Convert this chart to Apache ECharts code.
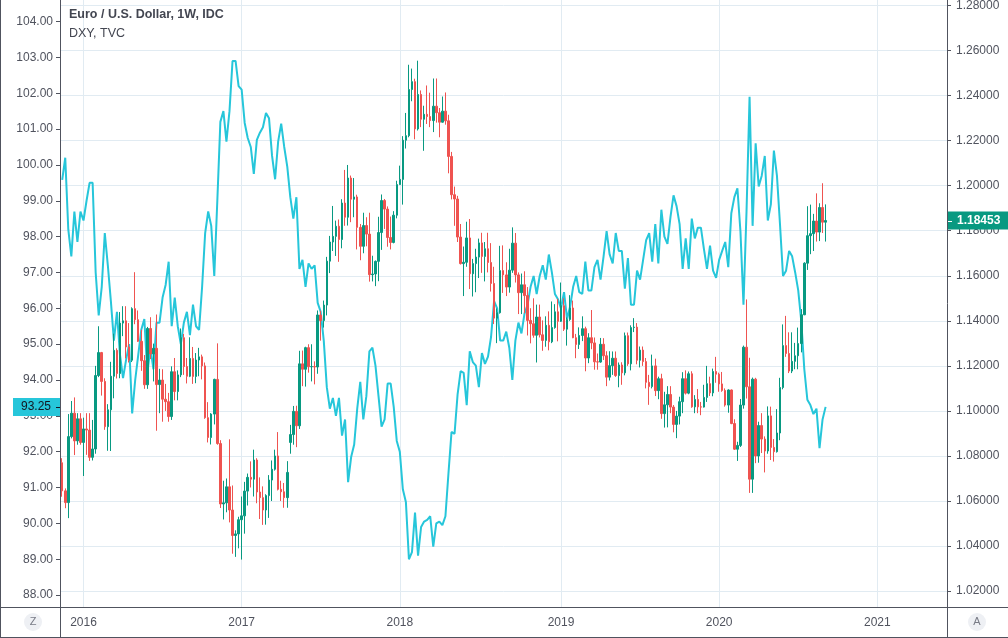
<!DOCTYPE html>
<html><head><meta charset="utf-8">
<script src="https://cdn.jsdelivr.net/npm/echarts@6/dist/echarts.min.js"></script>
<style>html,body{margin:0;padding:0;background:#fff;}#c{width:1008px;height:638px;}</style>
</head><body><div id="c"></div>
<script>
// ---- data ----
const firstWeek = '2015-11-16';
const yearTickDates = ['2016-01-04','2017-01-02','2018-01-01','2019-01-07','2020-01-06','2021-01-04'];
const yearTickLabels = ['2016','2017','2018','2019','2020','2021'];
const dxyTicks = [88,89,90,91,92,93,94,95,96,97,98,99,100,101,102,103,104];
const eurTicks = [1.02,1.04,1.06,1.08,1.10,1.12,1.14,1.16,1.18,1.20,1.22,1.24,1.26,1.28];
const titleMain = 'Euro / U.S. Dollar, 1W, IDC';
const titleCompare = 'DXY, TVC';

const eurOpen = [
1.0770,1.0645,1.0593,1.0886,1.0990,1.0867,1.0965,1.0860,1.0920,1.0915,
1.0794,1.0831,1.1157,1.1259,1.1131,1.0930,1.1005,1.1154,1.1269,1.1166,
1.1390,1.1400,1.1284,1.1225,1.1454,1.1405,1.1309,1.1223,1.1116,1.1366,
1.1253,1.1278,1.1117,1.1137,1.1052,1.1041,1.0975,1.1174,1.1086,1.1160,
1.1325,1.1197,1.1154,1.1233,1.1153,1.1226,1.1240,1.1200,1.0970,1.0882,
1.0986,1.1140,1.0855,1.0587,1.0592,1.0663,1.0560,1.0447,1.0454,1.0517,
1.0534,1.0644,1.0705,1.0697,1.0782,1.0640,1.0615,1.0560,1.0624,1.0693,
1.0741,1.0800,1.0652,1.0641,1.0615,1.0860,1.0895,1.0998,1.0934,1.1209,
1.1185,1.1281,1.1196,1.1197,1.1195,1.1426,1.1401,1.1470,1.1665,1.1750,
1.1775,1.1820,1.1761,1.1923,1.1860,1.2034,1.1940,1.1950,1.1815,1.1731,
1.1823,1.1785,1.1605,1.1608,1.1664,1.1792,1.1934,1.1896,1.1770,1.1748,
1.1869,1.2005,1.2028,1.2202,1.2222,1.2427,1.2462,1.2252,1.2405,1.2295,
1.2317,1.2307,1.2289,1.2353,1.2324,1.2282,1.2331,1.2288,1.2130,1.1960,
1.1941,1.1772,1.1654,1.1660,1.1768,1.1609,1.1654,1.1683,1.1746,1.1686,
1.1720,1.1659,1.1566,1.1412,1.1436,1.1623,1.1604,1.1550,1.1625,1.1745,
1.1604,1.1525,1.1560,1.1512,1.1402,1.1387,1.1336,1.1417,1.1338,1.1313,
1.1380,1.1307,1.1370,1.1440,1.1398,1.1467,1.1363,1.1406,1.1457,1.1325,
1.1295,1.1335,1.1365,1.1235,1.1325,1.1302,1.1218,1.1217,1.1296,1.1245,
1.1150,1.1201,1.1234,1.1157,1.1204,1.1169,1.1334,1.1209,1.1370,1.1372,
1.1225,1.1270,1.1219,1.1127,1.1108,1.1200,1.1090,1.1143,1.0988,1.1027,
1.1073,1.1017,1.0940,1.0977,1.1041,1.1143,1.1079,1.1165,1.1018,1.1051,
1.1018,1.1017,1.1060,1.1121,1.1080,1.1175,1.1163,1.1120,1.1091,1.1026,
1.1093,1.0944,1.0830,1.0847,1.1026,1.1283,1.1107,1.0697,1.1141,1.0800,
1.0935,1.0875,1.0822,1.0978,1.0838,1.0819,1.0902,1.1104,1.1290,1.1255,
1.1177,1.1220,1.1245,1.1299,1.1427,1.1656,1.1778,1.1787,1.1843,1.1794,
1.1903,1.1838];

const eurHigh = [
1.0790,1.0656,1.0986,1.1044,1.1060,1.0990,1.0990,1.0970,1.0990,1.0990,
1.0960,1.1200,1.1376,1.1262,1.1145,1.1030,1.1218,1.1343,1.1278,1.1439,
1.1465,1.1465,1.1390,1.1460,1.1616,1.1446,1.1360,1.1248,1.1373,1.1416,
1.1299,1.1428,1.1187,1.1185,1.1120,1.1080,1.1198,1.1235,1.1180,1.1366,
1.1342,1.1235,1.1327,1.1284,1.1257,1.1280,1.1250,1.1215,1.1039,1.0990,
1.1143,1.1300,1.0870,1.0690,1.0700,1.0874,1.0669,1.0470,1.0530,1.0620,
1.0685,1.0722,1.0776,1.0828,1.0790,1.0705,1.0665,1.0630,1.0715,1.0780,
1.0828,1.0906,1.0690,1.0680,1.0777,1.0938,1.1022,1.1023,1.1267,1.1268,
1.1285,1.1296,1.1296,1.1220,1.1446,1.1445,1.1490,1.1684,1.1777,1.1910,
1.1845,1.1850,1.1940,1.2070,1.2092,1.2045,1.2034,1.1960,1.1830,1.1880,
1.1860,1.1880,1.1689,1.1668,1.1862,1.1961,1.1941,1.1908,1.1863,1.1887,
1.2022,1.2089,1.2220,1.2323,1.2537,1.2520,1.2475,1.2555,1.2423,1.2355,
1.2445,1.2413,1.2476,1.2476,1.2345,1.2396,1.2414,1.2315,1.2150,1.1996,
1.1955,1.1830,1.1730,1.1840,1.1852,1.1675,1.1720,1.1765,1.1791,1.1750,
1.1791,1.1745,1.1640,1.1455,1.1733,1.1735,1.1660,1.1720,1.1815,1.1790,
1.1615,1.1610,1.1620,1.1550,1.1456,1.1500,1.1472,1.1472,1.1402,1.1420,
1.1442,1.1486,1.1474,1.1498,1.1570,1.1500,1.1415,1.1514,1.1490,1.1342,
1.1371,1.1420,1.1374,1.1345,1.1448,1.1326,1.1255,1.1324,1.1323,1.1265,
1.1265,1.1264,1.1264,1.1215,1.1216,1.1348,1.1348,1.1380,1.1412,1.1390,
1.1286,1.1286,1.1235,1.1160,1.1250,1.1232,1.1152,1.1165,1.1085,1.1110,
1.1110,1.1026,1.1000,1.1063,1.1172,1.1180,1.1175,1.1176,1.1070,1.1097,
1.1040,1.1116,1.1200,1.1152,1.1188,1.1240,1.1170,1.1173,1.1100,1.1096,
1.1095,1.0963,1.0863,1.1053,1.1290,1.1495,1.1236,1.1148,1.1147,1.0952,
1.0990,1.0887,1.1020,1.1019,1.0875,1.1008,1.1147,1.1384,1.1422,1.1349,
1.1349,1.1302,1.1370,1.1452,1.1660,1.1909,1.1916,1.1875,1.1966,1.1922,
1.2011,1.1917];

const eurLow = [
1.0619,1.0568,1.0524,1.0878,1.0804,1.0850,1.0850,1.0711,1.0805,1.0778,
1.0780,1.0810,1.1150,1.1068,1.0916,1.0823,1.0822,1.1056,1.1144,1.1145,
1.1332,1.1233,1.1215,1.1217,1.1385,1.1306,1.1178,1.1098,1.1098,1.1230,
1.1131,1.0912,1.0990,1.0952,1.1000,1.0952,1.0960,1.1047,1.1047,1.1150,
1.1160,1.1122,1.1150,1.1120,1.1123,1.1154,1.1140,1.0965,1.0860,1.0851,
1.0940,1.0850,1.0569,1.0518,1.0550,1.0505,1.0366,1.0352,1.0390,1.0340,
1.0455,1.0580,1.0660,1.0620,1.0590,1.0520,1.0494,1.0495,1.0525,1.0600,
1.0735,1.0647,1.0600,1.0570,1.0570,1.0810,1.0850,1.0839,1.0920,1.1110,
1.1108,1.1170,1.1131,1.1118,1.1165,1.1312,1.1370,1.1424,1.1612,1.1710,
1.1688,1.1662,1.1722,1.1822,1.1823,1.1838,1.1860,1.1717,1.1669,1.1700,
1.1731,1.1574,1.1575,1.1554,1.1576,1.1715,1.1808,1.1729,1.1717,1.1744,
1.1855,1.2004,1.1916,1.2165,1.2215,1.2375,1.2206,1.2245,1.2260,1.2155,
1.2274,1.2260,1.2238,1.2280,1.2215,1.2280,1.2271,1.2055,1.1939,1.1822,
1.1750,1.1650,1.1510,1.1640,1.1541,1.1508,1.1527,1.1590,1.1613,1.1575,
1.1615,1.1530,1.1386,1.1301,1.1432,1.1524,1.1510,1.1525,1.1613,1.1570,
1.1430,1.1430,1.1433,1.1335,1.1300,1.1325,1.1215,1.1326,1.1267,1.1285,
1.1269,1.1301,1.1365,1.1309,1.1395,1.1355,1.1290,1.1400,1.1323,1.1234,
1.1275,1.1310,1.1176,1.1212,1.1274,1.1183,1.1183,1.1214,1.1226,1.1110,
1.1135,1.1160,1.1151,1.1105,1.1116,1.1158,1.1200,1.1180,1.1350,1.1207,
1.1193,1.1200,1.1100,1.1027,1.1100,1.1066,1.1052,1.0965,1.0926,1.0927,
1.0990,1.0905,1.0879,1.0940,1.0990,1.1073,1.1074,1.1014,1.0990,1.0990,
1.0981,1.1015,1.1040,1.1066,1.1065,1.1125,1.1085,1.1085,1.1019,1.0992,
1.0941,1.0827,1.0778,1.0840,1.1010,1.1055,1.0636,1.0636,1.0768,1.0770,
1.0813,1.0727,1.0810,1.0782,1.0775,1.0815,1.0870,1.1096,1.1240,1.1168,
1.1168,1.1185,1.1185,1.1260,1.1425,1.1626,1.1696,1.1710,1.1752,1.1754,
1.1790,1.1752];

const eurClose = [
1.0645,1.0593,1.0886,1.0990,1.0867,1.0965,1.0860,1.0920,1.0915,1.0794,
1.0831,1.1157,1.1259,1.1131,1.0930,1.1005,1.1154,1.1269,1.1166,1.1390,
1.1400,1.1284,1.1225,1.1454,1.1405,1.1309,1.1223,1.1116,1.1366,1.1253,
1.1278,1.1117,1.1137,1.1052,1.1041,1.0975,1.1174,1.1086,1.1160,1.1325,
1.1197,1.1154,1.1233,1.1153,1.1226,1.1240,1.1200,1.0970,1.0882,1.0986,
1.1140,1.0855,1.0587,1.0592,1.0663,1.0560,1.0447,1.0454,1.0517,1.0534,
1.0644,1.0705,1.0697,1.0782,1.0640,1.0615,1.0560,1.0624,1.0693,1.0741,
1.0800,1.0652,1.0641,1.0615,1.0727,1.0895,1.0998,1.0934,1.1209,1.1185,
1.1281,1.1196,1.1197,1.1195,1.1426,1.1401,1.1470,1.1665,1.1750,1.1775,
1.1820,1.1761,1.1923,1.1860,1.2034,1.1940,1.1950,1.1815,1.1731,1.1823,
1.1785,1.1605,1.1608,1.1664,1.1792,1.1934,1.1896,1.1770,1.1748,1.1869,
1.2005,1.2028,1.2202,1.2222,1.2427,1.2462,1.2252,1.2405,1.2295,1.2317,
1.2307,1.2289,1.2353,1.2324,1.2282,1.2331,1.2288,1.2130,1.1960,1.1941,
1.1772,1.1654,1.1660,1.1768,1.1609,1.1654,1.1683,1.1746,1.1686,1.1720,
1.1659,1.1566,1.1412,1.1436,1.1623,1.1604,1.1550,1.1625,1.1745,1.1604,
1.1525,1.1560,1.1512,1.1402,1.1387,1.1336,1.1417,1.1338,1.1313,1.1380,
1.1307,1.1370,1.1440,1.1398,1.1467,1.1363,1.1406,1.1457,1.1325,1.1295,
1.1335,1.1365,1.1235,1.1325,1.1302,1.1218,1.1217,1.1296,1.1245,1.1150,
1.1201,1.1234,1.1157,1.1204,1.1169,1.1334,1.1209,1.1370,1.1372,1.1225,
1.1270,1.1219,1.1127,1.1108,1.1200,1.1090,1.1143,1.0988,1.1027,1.1073,
1.1017,1.0940,1.0977,1.1041,1.1143,1.1079,1.1165,1.1018,1.1051,1.1018,
1.1017,1.1060,1.1121,1.1080,1.1175,1.1163,1.1120,1.1091,1.1026,1.1093,
1.0944,1.0830,1.0847,1.1026,1.1283,1.1107,1.0697,1.1141,1.0800,1.0935,
1.0875,1.0822,1.0978,1.0838,1.0819,1.0902,1.1104,1.1290,1.1255,1.1177,
1.1220,1.1245,1.1299,1.1427,1.1656,1.1778,1.1787,1.1843,1.1794,1.1903,
1.1838,1.18453];

const dxyClose = [
99.58,100.2,98.2,97.45,98.7,97.85,98.7,98.45,99.0,99.5,
99.5,97.0,95.8,96.6,98.1,97.2,96.2,95.1,95.9,94.7,
94.05,94.56,95.0,93.07,94.0,94.7,95.4,95.7,94.2,94.9,
94.3,95.6,95.6,96.3,96.65,97.3,95.5,96.3,95.5,95.0,
95.6,95.9,95.25,96.1,95.5,95.4,96.6,98.1,98.7,98.3,
96.9,99.0,101.2,101.5,100.65,101.5,102.9,102.9,102.2,102.1,
101.17,100.75,100.5,99.75,100.7,100.9,101.05,101.45,101.3,100.25,
99.6,100.65,101.15,100.5,99.95,99.1,98.5,99.1,97.1,97.35,
96.6,97.25,97.1,97.2,96.15,95.9,95.1,93.8,93.2,93.5,
93.0,93.5,92.45,92.9,91.15,91.85,92.2,93.2,93.95,92.9,
93.55,94.8,94.9,94.4,93.55,92.7,92.9,93.9,93.9,93.25,
92.3,92.0,90.95,90.6,89.0,89.2,90.3,89.1,89.9,90.05,
90.1,90.2,89.35,90.0,90.05,89.95,90.2,91.4,92.55,92.5,
93.6,94.25,94.2,93.3,94.8,94.5,94.4,93.8,94.75,94.45,
94.65,95.2,96.2,96.0,95.1,95.1,95.35,94.9,94.0,95.1,
95.6,95.3,95.85,96.1,96.6,96.9,96.4,96.9,97.2,96.8,
97.5,97.0,96.4,96.25,96.0,96.45,95.7,96.05,96.6,96.9,
96.45,96.4,97.3,96.5,96.5,97.15,97.35,96.8,97.45,98.15,
97.5,97.25,98.1,97.6,97.6,96.55,97.4,96.1,96.1,97.05,
96.8,97.35,97.9,98.1,97.3,98.35,97.25,98.75,98.0,97.8,
98.55,99.15,98.85,98.35,97.1,97.95,97.1,98.5,97.95,98.25,
98.25,97.65,97.1,97.75,97.05,96.85,97.35,97.6,97.85,97.15,
98.65,99.1,99.35,98.15,96.1,98.7,101.9,98.3,100.6,99.4,
99.7,100.25,98.45,98.9,100.4,99.7,98.35,96.9,97.05,97.6,
97.45,97.0,96.5,95.65,94.3,93.45,93.3,93.05,93.2,92.1,
92.9,93.25];

// ---- build ----
const DAY = 86400000;
const t0 = Date.parse(firstWeek + 'T00:00:00Z');
const weeks = eurClose.map((_, i) => t0 + i * 7 * DAY);
const yearTicks = yearTickDates.map(d => Date.parse(d + 'T00:00:00Z'));
const candles = weeks.map((t, i) => [t, eurOpen[i], eurClose[i], eurLow[i], eurHigh[i]]);
const dxyLine = weeks.map((t, i) => [t, dxyClose[i]]);

const UP = '#089981', DOWN = '#ef5350', CYAN = '#26c6da';
const TXT = '#50535e', GRID = '#e1ebf2', FRAME = '#50535e';
const FONT = 'Liberation Sans, Arial, sans-serif';

const chart = echarts.init(document.getElementById('c'), null, {renderer: 'canvas'});
chart.setOption({
  animation: false,
  backgroundColor: '#ffffff',
  grid: {left: 60, right: 61, top: 0, bottom: 31, containLabel: false, outerBoundsMode: 'none'},
  xAxis: {
    type: 'value',
    min: Date.parse('2015-11-10T22:00:00Z'),
    max: Date.parse('2021-06-13T10:00:00Z'),
    axisLine: {show: true, lineStyle: {color: FRAME, width: 1}},
    axisTick: {show: false, customValues: yearTicks},
    axisLabel: {
      customValues: yearTicks, color: TXT, fontSize: 12, fontFamily: FONT, margin: 10,
      formatter: v => yearTickLabels[yearTicks.indexOf(v)] || ''
    },
    splitLine: {show: true, lineStyle: {color: GRID, width: 1}}
  },
  yAxis: [
    {
      type: 'value', position: 'left', min: 87.668, max: 104.6,
      axisLine: {show: true, lineStyle: {color: FRAME}},
      axisTick: {show: true, length: 4, customValues: dxyTicks, lineStyle: {color: FRAME}},
      axisLabel: {customValues: dxyTicks, color: TXT, fontSize: 12, fontFamily: FONT, margin: 7,
        formatter: v => v.toFixed(2)},
      splitLine: {show: false}
    },
    {
      type: 'value', position: 'right', min: 1.01294, max: 1.28245,
      axisLine: {show: true, lineStyle: {color: FRAME}},
      axisTick: {show: true, length: 4, customValues: eurTicks, lineStyle: {color: FRAME}},
      axisLabel: {customValues: eurTicks, color: TXT, fontSize: 12, fontFamily: FONT, margin: 9,
        formatter: v => v.toFixed(5)},
      splitLine: {show: true, lineStyle: {color: GRID, width: 1}}
    }
  ],
  series: [
    {
      name: 'DXY', type: 'line', yAxisIndex: 0, data: dxyLine, showSymbol: false, symbol: 'none',
      lineStyle: {color: CYAN, width: 2}, itemStyle: {color: CYAN}, z: 2, silent: true
    },
    {
      name: 'EURUSD', type: 'candlestick', yAxisIndex: 1, data: candles,
      encode: {x: 0, y: [1, 2, 3, 4]}, barWidth: 2,
      itemStyle: {color: UP, color0: DOWN, borderColor: UP, borderColor0: DOWN, borderWidth: 1},
      z: 3, silent: true
    }
  ]
});

const last = eurClose.length - 1;
const yL = chart.convertToPixel({yAxisIndex: 0}, dxyClose[last]);
const yR = chart.convertToPixel({yAxisIndex: 1}, eurClose[last]);

chart.setOption({
  graphic: [
    {type: 'text', left: 69, top: 8, style: {text: titleMain, fill: '#434651', fontSize: 12.5, fontWeight: 'bold', fontFamily: FONT}},
    {type: 'text', left: 69, top: 27, style: {text: titleCompare, fill: '#434651', fontSize: 12.5, fontFamily: FONT}},
    {type: 'line', shape: {x1: 0.5, y1: 0, x2: 0.5, y2: 638}, style: {stroke: FRAME, lineWidth: 1}},
    {type: 'line', shape: {x1: 0, y1: 637.5, x2: 1008, y2: 637.5}, style: {stroke: FRAME, lineWidth: 1}},
    {type: 'line', shape: {x1: 0, y1: 607.5, x2: 1008, y2: 607.5}, style: {stroke: FRAME, lineWidth: 1}},
    {type: 'line', shape: {x1: 60.5, y1: 607, x2: 60.5, y2: 638}, style: {stroke: FRAME, lineWidth: 1}},
    {type: 'line', shape: {x1: 947.5, y1: 607, x2: 947.5, y2: 638}, style: {stroke: FRAME, lineWidth: 1}},
    {type: 'circle', shape: {cx: 33, cy: 622, r: 9}, style: {fill: '#eef0f4'}},
    {type: 'text', x: 33, y: 622, style: {text: 'Z', fill: '#787b86', fontSize: 11, fontFamily: FONT, align: 'center', verticalAlign: 'middle'}},
    {type: 'circle', shape: {cx: 977, cy: 622, r: 9}, style: {fill: '#eef0f4'}},
    {type: 'text', x: 977, y: 622, style: {text: 'A', fill: '#787b86', fontSize: 11, fontFamily: FONT, align: 'center', verticalAlign: 'middle'}},
    {type: 'rect', shape: {x: 13, y: yL - 9, width: 47, height: 18}, style: {fill: CYAN}, z: 100},
    {type: 'text', x: 36, y: yL, style: {text: dxyClose[last].toFixed(2), fill: '#131722', fontSize: 12, fontFamily: FONT, align: 'center', verticalAlign: 'middle'}, z: 101},
    {type: 'line', shape: {x1: 56, y1: Math.round(yL) + 0.5, x2: 60, y2: Math.round(yL) + 0.5}, style: {stroke: '#131722', lineWidth: 1}, z: 101},
    {type: 'rect', shape: {x: 948, y: yR - 9, width: 60, height: 18}, style: {fill: UP}, z: 100},
    {type: 'text', x: 957, y: yR, style: {text: eurClose[last].toFixed(5), fill: '#ffffff', fontSize: 12, fontWeight: 'bold', fontFamily: FONT, align: 'left', verticalAlign: 'middle'}, z: 101},
    {type: 'line', shape: {x1: 948, y1: Math.round(yR) + 0.5, x2: 952, y2: Math.round(yR) + 0.5}, style: {stroke: '#ffffff', lineWidth: 1}, z: 101}
  ]
});
</script>
</body></html>
